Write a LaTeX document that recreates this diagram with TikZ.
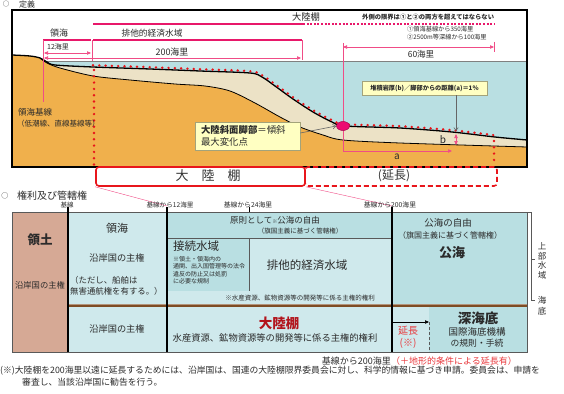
\documentclass[tikz,border=0pt]{standalone}
\usepackage{fontspec}
\setmainfont{Noto Sans CJK JP}
\usetikzlibrary{arrows.meta,shapes.geometric}

\definecolor{sea}{HTML}{B9DFE2}
\definecolor{land}{HTML}{F0B04C}
\definecolor{sand}{HTML}{ECE2C6}
\definecolor{pk}{HTML}{F04C86}
\definecolor{pkbar}{HTML}{E8186A}
\definecolor{dotred}{HTML}{E8141A}
\definecolor{boxred}{HTML}{E8161C}
\definecolor{note}{HTML}{FFFFC2}
\definecolor{notebd}{HTML}{A3A37A}
\definecolor{terr}{HTML}{D6A995}
\definecolor{cyl}{HTML}{CFE9EC}
\definecolor{cyd}{HTML}{B9DFE2}
\definecolor{seabed}{HTML}{7E4C24}
\definecolor{shelfred}{HTML}{B2141C}
\definecolor{extred}{HTML}{E8383C}
\definecolor{ink}{HTML}{2B2B2B}
\definecolor{footpk}{HTML}{EC0C72}

\newcommand{\jfs}[2]{\fontsize{#1}{#2}\selectfont}

\begin{document}
\begin{tikzpicture}[x=1pt,y=-1pt,
  >={Triangle[length=4pt,width=3.4pt]},
  every node/.style={inner sep=0pt, text=ink},
  pkline/.style={draw=pk, line width=0.6pt},
  barline/.style={draw=pkbar, line width=2.4pt},
  reddots/.style={draw=dotred, line width=2.7pt, line cap=round, dash pattern=on 0pt off 6.3pt},
  notebox/.style={draw=notebd, fill=note, line width=0.6pt},
  grayarrow/.style={draw=gray!80!black, line width=0.6pt, -{Straight Barb[length=3pt,width=4.5pt]}},
  rule/.style={draw=black, line width=1.4pt},
  cellline/.style={draw=gray!70!black, line width=0.6pt},
  tick/.style={draw=black, line width=0.6pt},
]
\useasboundingbox (0,0) rectangle (564,393);

% ---------- heading of the definitions part ----------
\node[font=\jfs{6.5}{7}] (defmark) at (6,4.5) {○};
\node[font=\jfs{8}{9}, anchor=west] (defhead) at (19,4.5) {定義};

% ---------- cross-section: sea, sediment wedge, land ----------
\fill[sea] (12,61) rectangle (527,167);
\fill[sand] plot[smooth] coordinates {(12,55) (30,56) (40,58) (47,62) (55,65) (93,67) (150,69) (200,71) (250,73) (262,77) (275,86) (293,99) (313,112) (332,122) (345,126) (400,128) (452,132) (495,137) (527,140)} -- (527,167) -- (12,167) -- cycle;
\fill[land] plot[smooth] coordinates {(12,55) (30,56) (40,58) (47,63) (60,68) (93,76) (130,80) (175,84) (205,86) (230,91) (255,103) (280,117) (300,127) (323,135) (343,140) (400,143) (527,147)} -- (527,167) -- (12,167) -- cycle;
\draw[gray, line width=0.8pt] (44,61) -- (527,61);
\draw[line width=0.8pt] plot[smooth] coordinates {(40,58) (47,63) (60,68) (93,76) (130,80) (175,84) (205,86) (230,91) (255,103) (280,117) (300,127) (323,135) (343,140) (400,143) (527,147)};
\draw[line width=1.3pt] plot[smooth] coordinates {(12,55) (30,56) (40,58) (47,62) (55,65) (93,67) (150,69) (200,71) (250,73) (262,77) (275,86) (293,99) (313,112) (332,122) (345,126) (400,128) (452,132) (495,137) (527,140)};

% continental shelf outline (red dots)
\draw[reddots, yshift=1.8pt] plot[smooth] coordinates {(93,67) (150,69) (200,71) (250,73) (262,77) (275,86) (293,99) (313,112) (332,122) (345,126) (400,128) (452,132) (494,137)};
\draw[reddots] (94,70) -- (94,167);
\draw[reddots] (494,141) -- (494,165);

% frame
\draw[line width=1.8pt] (12,10) rectangle (527,167);

% ---------- zone labels above the sea ----------
\node[font=\jfs{9.3}{10}, text=gray!30!black] (shelftitle) at (306,17) {大陸棚};
\draw[barline, line width=2pt] (93,24) -- (303,24);
\draw[draw=pkbar, line width=2pt, dash pattern=on 2pt off 1.6pt] (303,24) -- (495,24);
\node[font=\bfseries\jfs{6.3}{7}, anchor=west] (limit) at (362,17) {外側の限界は①と②の両方を超えてはならない};
\node[font=\jfs{6.2}{7}, anchor=west] (limA) at (407,29) {①領海基線から350海里};
\node[font=\jfs{6.2}{7}, anchor=west] (limB) at (407,37) {②2500m等深線から100海里};

\node[font=\jfs{9}{10}] (tslab) at (59,33) {領海};
\node[font=\jfs{8.7}{10}] (eezlab) at (152,33) {排他的経済水域};
\draw[barline] (43,40) -- (91,40);
\draw[barline] (93,40) -- (302,40);
\draw[pkline] (43,40) -- (43,102);
\draw[pkline] (92,40) -- (92,61);
\draw[pkline] (302,40) -- (302,60);

\coordinate (t12a) at (44,53);
\coordinate (t12b) at (91,53);
\draw[pkline,<->] (t12a) -- (t12b);
\node[font=\jfs{7}{8}] (lab12) at (58,47) {12海里};
\coordinate (t200a) at (44,58);
\coordinate (t200b) at (301,58);
\draw[pkline,<->] (t200a) -- (t200b);
\node[font=\jfs{9}{10}] (lab200) at (172,52) {200海里};

% 60 nautical miles beyond the foot of the slope
\coordinate (sixtytop) at (343,43);
\coordinate (sixL) at (343,47);
\coordinate (sixR) at (494,47);
\coordinate (afoot) at (343,151);
\coordinate (aend) at (452,151);
\draw[pkline] (sixtytop) -- (afoot);
\draw[pkline,<->] (sixL) -- (sixR);
\draw[pkline] (494,42) -- (494,52);
\node[font=\jfs{8.5}{9}] (lab60) at (421,54) {60海里};
\draw[pkline,->] (afoot) -- (aend);
\node[font=\jfs{10}{10}] (alab) at (397,157) {a};

% sediment thickness
\coordinate (bt) at (456,134);
\coordinate (bb) at (456,145);
\draw[pkline,<->] (bt) -- (bb);
\node[font=\jfs{10}{10}] (blab) at (443,140) {b};

\node[font=\jfs{8.5}{10}, anchor=west] (baseline1) at (18,112) {領海基線};
\node[font=\jfs{7.5}{9}, anchor=west] (baseline2) at (17,124) {（低潮線、直線基線等）};

% foot of the continental slope
\node[ellipse, fill=footpk, draw=footpk!70!black, line width=0.5pt, minimum width=13pt, minimum height=9pt] (foot) at (343,126) {};
\node[notebox, minimum width=105pt, minimum height=28pt, text width=93pt, inner xsep=6pt, inner ysep=3pt, align=left, font=\jfs{9.4}{11.5}] (callout) at (247.5,136) {{\bfseries 大陸斜面脚部}＝傾斜\\最大変化点};
\draw[grayarrow] ([yshift=3pt]callout.east) -- (foot.west);

\node[notebox, minimum width=125pt, minimum height=14pt, font=\bfseries\jfs{6.2}{7}] (ratio) at (424.5,88) {堆積岩厚(b)／脚部からの距離(a)＝1\%};
\coordinate (wedgetop) at (456,131);
\draw[grayarrow] (ratio.south -| wedgetop) -- (wedgetop);

% ---------- shelf extent boxes ----------
\node[draw=boxred, line width=1.6pt, rounded corners=3pt, minimum width=209pt, minimum height=19pt] (shelfbox) at (200.5,176.5) {};
\node[draw=boxred, line width=1.6pt, rounded corners=3pt, dash pattern=on 5pt off 3pt, minimum width=192pt, minimum height=19pt] (extbox) at (401,176.5) {};
\node[font=\jfs{13}{14}, text=gray!40!black] (shelfword) at (208,176) {大　陸　棚};
\node[font=\jfs{12}{13}, text=gray!40!black] (extword) at (394,176) {(延長)};

\coordinate (m12) at (167,206);
\coordinate (m200) at (392,206);
\draw[draw=pk, line width=0.4pt] (shelfbox.south west) -- (m12);
\draw[draw=pk, line width=0.4pt] (shelfbox.south east) -- (m200);

% ---------- heading of the rights part ----------
\node[font=\jfs{7}{8}] (rightsmark) at (5,196) {○};
\node[font=\jfs{10}{11}, anchor=west] (rightshead) at (17,196) {権利及び管轄権};

% ---------- rights table ----------
\fill[terr] (12,212) rectangle (68,352);
\fill[cyl] (68,212) rectangle (167,352);
\fill[cyd] (167,212) rectangle (392,238);
\fill[cyd] (167,238) rectangle (249,291);
\fill[cyl] (249,238) rectangle (392,291);
\fill[cyl] (167,291) rectangle (392,352);
\fill[cyd] (392,212) rectangle (527,305);
\fill[cyl] (392,305) rectangle (429,352);
\fill[cyd] (429,305) rectangle (527,352);
\draw[cellline] (12,212) rectangle (527,352);
\draw[cellline] (167,238) -- (392,238);
\draw[cellline] (249,238) -- (249,291);
\draw[seabed, line width=3pt] (68,305) -- (527,305);
\draw[draw=seabed!60!white, line width=0.6pt] (68,304) -- (527,304);
\draw[rule] (68,207) -- (68,352);
\draw[rule] (167,207) -- (167,352);
\draw[rule] (392,207) -- (392,352);
\draw[tick] (249,207) -- (249,212);

% distance marks
\node[font=\jfs{6.5}{7}] (mk0) at (67,205.5) {基線};
\node[font=\jfs{6.6}{7}] (mk12) at (170,205) {基線から12海里};
\node[font=\jfs{6.8}{7}] (mk24) at (248,205) {基線から24海里};
\node[font=\jfs{6.8}{7}] (mk200) at (390,205) {基線から200海里};

% land territory
\node[font=\bfseries\jfs{12.5}{13}] (terrT) at (40,240) {領土};
\node[font=\jfs{8.3}{9}] (terrS) at (40,285) {沿岸国の主権};

% territorial sea
\node[font=\jfs{11}{12}] (tsT) at (117,228) {領海};
\node[font=\jfs{9.2}{10}] (tsS) at (117,258) {沿岸国の主権};
\node[font=\jfs{8.4}{11}, anchor=north west, align=left] (tsN) at (70,276) {（ただし、船舶は\\無害通航権を有する。）};
\node[font=\jfs{9.2}{10}] (tsBed) at (117,329) {沿岸国の主権};

% high seas freedoms band
\node[font=\jfs{8.5}{9}] (freeT) at (275,220) {原則として{\jfs{5}{5}※}公海の自由};
\node[font=\jfs{6.5}{7}] (freeS) at (300,231.5) {（旗国主義に基づく管轄権）};

% contiguous zone
\node[font=\jfs{11.5}{12}, anchor=west] (czT) at (173,246) {接続水域};
\node[font=\jfs{6}{7.5}, anchor=north west, align=left] (czN) at (173,256) {※領土・領海内の\\通関、出入国管理等の法令\\違反の防止又は処罰\\に必要な規制};

% exclusive economic zone
\node[font=\jfs{11.5}{12}] (eezT) at (307,265) {排他的経済水域};
\node[font=\jfs{6.5}{7}] (eezN) at (300,298) {※水産資源、鉱物資源等の開発等に係る主権的権利};

% continental shelf
\node[font=\bfseries\jfs{13.5}{14}, text=shelfred] (csT) at (279,323) {大陸棚};
\node[font=\jfs{9.3}{10}] (csS) at (275,337.5) {水産資源、鉱物資源等の開発等に係る主権的権利};

% high seas
\node[font=\jfs{9.5}{10}] (hsT) at (448,223) {公海の自由};
\node[font=\jfs{8}{9}] (hsS) at (450,235) {（旗国主義に基づく管轄権）};
\node[font=\bfseries\jfs{13}{14}] (hsB) at (452,253) {公海};

% extension and deep seabed
\coordinate (extL) at (393,322);
\coordinate (extR) at (429,322);
\coordinate (extB) at (429,352);
\draw[line width=0.7pt, ->] (extL) -- (extR);
\draw[draw=gray!70!black, line width=1pt, dash pattern=on 3pt off 2pt] (extR) -- (extB);
\node[font=\jfs{10}{11}, text=extred] (extT) at (408,331) {延長};
\node[font=\jfs{10}{11}, text=extred] (extN) at (408,343) {(※)};
\node[font=\bfseries\jfs{13.5}{14}] (dsT) at (478,318) {深海底};
\node[font=\jfs{9.5}{10}] (dsS) at (477,332) {国際海底機構};
\node[font=\jfs{8.8}{10}] (dsS2) at (477,343.5) {の規則・手続};

% water column / seabed brackets
\draw[cellline] (527,212) -- (531,212) -- (531,300) -- (535,300);
\draw[cellline] (531,259) -- (535,259);
\node[font=\jfs{8.5}{9.5}, align=center] (upperW) at (542,261) {上\\部\\水\\域};
\node[font=\jfs{8.5}{11}, align=center] (bedW) at (542,306) {海\\底};

% ---------- notes below the table ----------
\node[font=\jfs{9}{10}, anchor=east] (base200) at (391,361) {基線から200海里};
\node[font=\jfs{9}{10}, anchor=west, text=extred] (base200x) at (391,361) {（＋地形的条件による延長有）};
\node[font=\jfs{8.8}{10}, anchor=west] (foot1) at (0,371) {(※)大陸棚を200海里以遠に延長するためには、沿岸国は、国連の大陸棚限界委員会に対し、科学的情報に基づき申請。委員会は、申請を};
\node[font=\jfs{8.8}{10}, anchor=west] (foot2) at (22,382) {審査し、当該沿岸国に勧告を行う。};
\end{tikzpicture}
\end{document}
